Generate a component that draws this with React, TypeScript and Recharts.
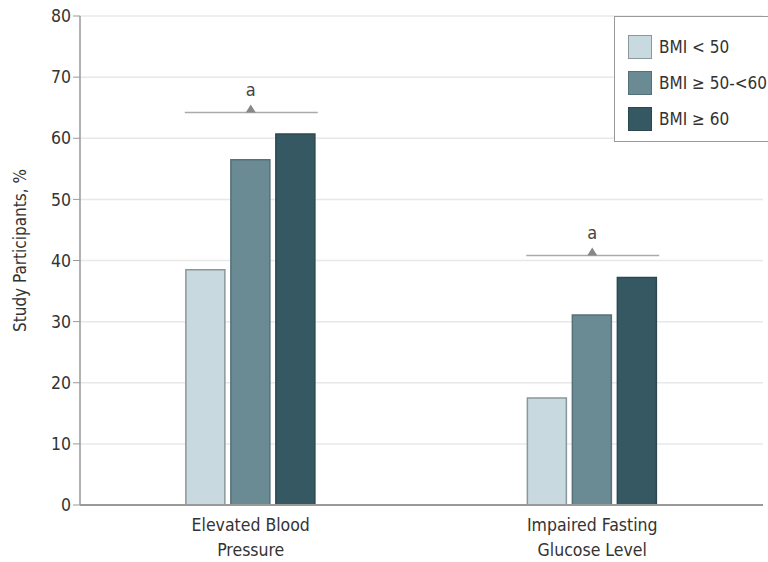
import {Bar, BarChart, CartesianGrid, ReferenceDot, XAxis, YAxis} from 'recharts';

const categories = ['Elevated Blood Pressure', 'Impaired Fasting Glucose Level'];
const tickLines: Record<string, string[]> = {
    'Elevated Blood Pressure': ['Elevated Blood', 'Pressure'],
    'Impaired Fasting Glucose Level': ['Impaired Fasting', 'Glucose Level'],
};
const bmiUnder50 = [38.5, 17.5];
const bmi50to60 = [56.5, 31.1];
const bmiOver60 = [60.7, 37.2];
const markerLevels = [64.2, 40.8];
const yTicks = [0, 10, 20, 30, 40, 50, 60, 70, 80];

const SERIES = [
    {key: 'low', name: 'BMI < 50', fill: '#c9d9e0', stroke: '#8a979c'},
    {key: 'mid', name: 'BMI ≥ 50-<60', fill: '#6a8a94', stroke: '#56707a'},
    {key: 'high', name: 'BMI ≥ 60', fill: '#365863', stroke: '#2b4850'},
];

const FONT = '"DejaVu Sans Condensed", "Liberation Sans Narrow", sans-serif';

const data = categories.map((c, i) => ({
    category: c,
    low: bmiUnder50[i],
    mid: bmi50to60[i],
    high: bmiOver60[i],
}));

function CategoryTick({x, y, payload}: any) {
    const lines = tickLines[payload.value] ?? [payload.value];
    return (
        <text x={x} y={y} textAnchor="middle" fill="#333" fontSize={17.5} fontFamily={FONT}>
            {lines.map((line, i) => (
                <tspan key={line} x={x} dy={i === 0 ? 18 : 25}>{line}</tspan>
            ))}
        </text>
    );
}

function Marker({cx, cy}: any) {
    if (cx == null || cy == null) return <g/>;
    return (
        <g>
            <line x1={cx - 66} x2={cx + 67} y1={cy} y2={cy} stroke="#aaa" strokeWidth={1.5}/>
            <path d={`M${cx - 5},${cy} L${cx + 5},${cy} L${cx},${cy - 8} Z`} fill="#888"/>
            <text x={cx} y={cy - 17} textAnchor="middle" fill="#444" fontSize={18} fontFamily={FONT}>a</text>
        </g>
    );
}

function LegendBox() {
    return (
        <div style={{
            position: 'absolute', left: 614, top: 16,
            border: '1.5px solid #999', width: 170, height: 126, boxSizing: 'border-box',
            padding: '12px 0 0 13px', fontFamily: FONT, fontSize: 17, color: '#333', background: '#fff',
        }}>
            {SERIES.map((s) => (
                <div key={s.key} style={{display: 'flex', alignItems: 'center', height: 36}}>
                    <span style={{
                        display: 'inline-block', width: 24, height: 24, background: s.fill,
                        border: `1.5px solid ${s.stroke}`, marginRight: 7, boxSizing: 'border-box',
                    }}/>
                    <span>{s.name}</span>
                </div>
            ))}
        </div>
    );
}

export default function App() {
    return (
        <div style={{position: 'absolute', left: 0, top: 0, width: 768, height: 562, overflow: 'hidden', background: '#fff'}}>
            <BarChart width={768} height={562} data={data} margin={{top: 16, right: 5, left: 0, bottom: 0}}
                      barCategoryGap="31%" barGap={6}>
                <CartesianGrid vertical={false} stroke="#e8e8e8" strokeWidth={1.5}/>
                <XAxis dataKey="category" height={57} tick={<CategoryTick/>} tickLine={false}
                       axisLine={{stroke: '#999', strokeWidth: 2}}/>
                <YAxis width={80} domain={[0, 80]} ticks={yTicks} tickSize={7}
                       tick={{fill: '#333', fontSize: 17.5, fontFamily: FONT}}
                       axisLine={{stroke: '#999', strokeWidth: 1.5}} tickLine={{stroke: '#999'}}
                       label={{value: 'Study Participants, %', angle: -90, position: 'insideLeft', offset: 20, dy: -10,
                           style: {textAnchor: 'middle', fill: '#333', fontSize: 17, fontFamily: FONT}}}/>
                {SERIES.map((s) => (
                    <Bar key={s.key} dataKey={s.key} name={s.name} fill={s.fill} stroke={s.stroke}
                         strokeWidth={1.5} isAnimationActive={false}/>
                ))}
                {categories.map((c, i) => (
                    <ReferenceDot key={c} x={c} y={markerLevels[i]} shape={<Marker/>}/>
                ))}
            </BarChart>
            <LegendBox/>
        </div>
    );
}
